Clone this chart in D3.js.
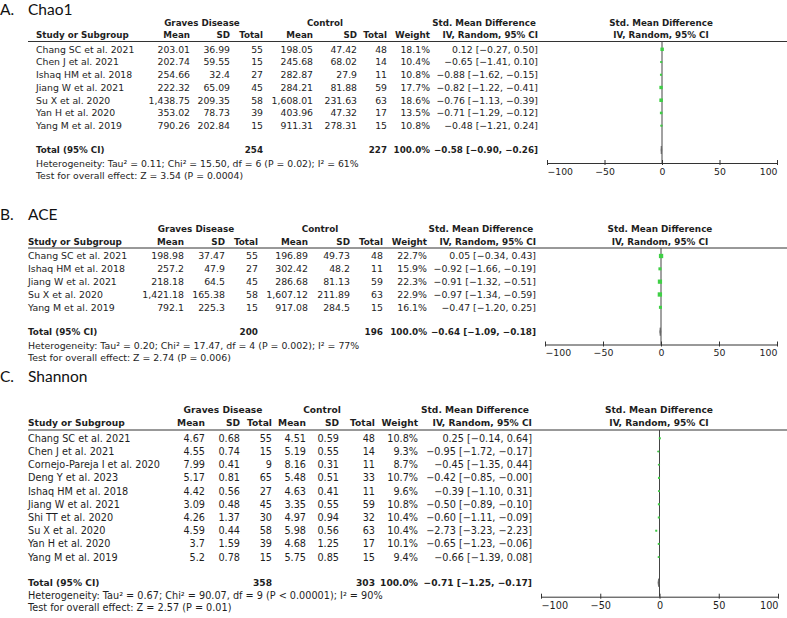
<!DOCTYPE html>
<html>
<head>
<meta charset="utf-8">
<script src="https://cdn.jsdelivr.net/npm/d3@7"></script>
<style>
  body { margin: 0; background: #fff; }
  text { font-family: "DejaVu Sans", sans-serif; fill: #1e1e1e; }
  .title { font-family: Lato, "Open Sans", sans-serif; fill: #111; }
</style>
</head>
<body>
<div id="vis"></div>
<script>
const FRAME_WIDTH = 787;
const FRAME_HEIGHT = 618;

//###############################################################
// Data
//###############################################################

// A. Chao1
const studiesA = ["Chang SC et al. 2021", "Chen J et al. 2021", "Ishaq HM et al. 2018",
  "Jiang W et al. 2021", "Su X et al. 2020", "Yan H et al. 2020", "Yang M et al. 2019"];
const gravesA = [[203.01, 36.99, 55], [202.74, 59.55, 15], [254.66, 32.4, 27], [222.32, 65.09, 45],
  [1438.75, 209.35, 58], [353.02, 78.73, 39], [790.26, 202.84, 15]];
const controlA = [[198.05, 47.42, 48], [245.68, 68.02, 14], [282.87, 27.9, 11], [284.21, 81.88, 59],
  [1608.01, 231.63, 63], [403.96, 47.32, 17], [911.31, 278.31, 15]];
const weightA = [18.1, 10.4, 10.8, 17.7, 18.6, 13.5, 10.8];
const smdA = [[0.12, -0.27, 0.50], [-0.65, -1.41, 0.10], [-0.88, -1.62, -0.15], [-0.82, -1.22, -0.41],
  [-0.76, -1.13, -0.39], [-0.71, -1.29, -0.12], [-0.48, -1.21, 0.24]];
const totalA = [254, 227, -0.58, -0.90, -0.26];
const hetA = ["0.11", "15.50", 6, "P = 0.02", 61];
const testA = ["3.54", "P = 0.0004"];

// B. ACE
const studiesB = ["Chang SC et al. 2021", "Ishaq HM et al. 2018", "Jiang W et al. 2021",
  "Su X et al. 2020", "Yang M et al. 2019"];
const gravesB = [[198.98, 37.47, 55], [257.2, 47.9, 27], [218.18, 64.5, 45], [1421.18, 165.38, 58], [792.1, 225.3, 15]];
const controlB = [[196.89, 49.73, 48], [302.42, 48.2, 11], [286.68, 81.13, 59], [1607.12, 211.89, 63], [917.08, 284.5, 15]];
const weightB = [22.7, 15.9, 22.3, 22.9, 16.1];
const smdB = [[0.05, -0.34, 0.43], [-0.92, -1.66, -0.19], [-0.91, -1.32, -0.51], [-0.97, -1.34, -0.59], [-0.47, -1.20, 0.25]];
const totalB = [200, 196, -0.64, -1.09, -0.18];
const hetB = ["0.20", "17.47", 4, "P = 0.002", 77];
const testB = ["2.74", "P = 0.006"];

// C. Shannon
const studiesC = ["Chang SC et al. 2021", "Chen J et al. 2021", "Cornejo-Pareja I et al. 2020",
  "Deng Y et al. 2023", "Ishaq HM et al. 2018", "Jiang W et al. 2021", "Shi TT et al. 2020",
  "Su X et al. 2020", "Yan H et al. 2020", "Yang M et al. 2019"];
const gravesC = [[4.67, 0.68, 55], [4.55, 0.74, 15], [7.99, 0.41, 9], [5.17, 0.81, 65], [4.42, 0.56, 27],
  [3.09, 0.48, 45], [4.26, 1.37, 30], [4.59, 0.44, 58], [3.7, 1.59, 39], [5.2, 0.78, 15]];
const controlC = [[4.51, 0.59, 48], [5.19, 0.55, 14], [8.16, 0.31, 11], [5.48, 0.51, 33], [4.63, 0.41, 11],
  [3.35, 0.55, 59], [4.97, 0.94, 32], [5.98, 0.56, 63], [4.68, 1.25, 17], [5.75, 0.85, 15]];
const weightC = [10.8, 9.3, 8.7, 10.7, 9.6, 10.8, 10.4, 10.4, 10.1, 9.4];
const smdC = [[0.25, -0.14, 0.64], [-0.95, -1.72, -0.17], [-0.45, -1.35, 0.44], [-0.42, -0.85, -0.00],
  [-0.39, -1.10, 0.31], [-0.50, -0.89, -0.10], [-0.60, -1.11, -0.09], [-2.73, -3.23, -2.23],
  [-0.65, -1.23, -0.06], [-0.66, -1.39, 0.08]];
const totalC = [358, 303, -0.71, -1.25, -0.17];
const hetC = ["0.67", "90.07", 9, "P < 0.00001", 90];
const testC = ["2.57", "P = 0.01"];

const axisTicks = [-100, -50, 0, 50, 100];
const colHeads = ["Mean", "SD", "Total", "Mean", "SD", "Total", "Weight", "IV, Random, 95% CI"];

//###############################################################
// Layout of the three panels (positions only)
//###############################################################
const panels = [
  { letter: "A.", name: "Chao1", studies: studiesA, graves: gravesA, control: controlA,
    weight: weightA, smd: smdA, total: totalA, het: hetA, test: testA,
    titleY: 14.5, groupY: 23, headY: 35, lineY: 41.5, lineX: 28, studyX: 36,
    row0: 49.3, step: 12.73, totalY: 150, hetY: 164, testY: 176, axisY: 163,
    cols: [190, 230, 263, 313, 357, 387, 430, 538], groupX: [202, 325, 484, 661],
    plotX: [547, 777], fs: 9.3 },
  { letter: "B.", name: "ACE", studies: studiesB, graves: gravesB, control: controlB,
    weight: weightB, smd: smdB, total: totalB, het: hetB, test: testB,
    titleY: 220, groupY: 229, headY: 241.7, lineY: 248, lineX: 28, studyX: 28,
    row0: 256, step: 12.83, totalY: 331.7, hetY: 346, testY: 358, axisY: 344.5,
    cols: [184, 225, 258, 308, 350, 383, 427, 536], groupX: [196, 320, 481, 660],
    plotX: [545, 777], fs: 9.4 },
  { letter: "C.", name: "Shannon", studies: studiesC, graves: gravesC, control: controlC,
    weight: weightC, smd: smdC, total: totalC, het: hetC, test: testC,
    titleY: 381.7, groupY: 410, headY: 422.7, lineY: 430, lineX: 28, studyX: 28,
    row0: 438.3, step: 13.2, totalY: 582.7, hetY: 596, testY: 607.3, axisY: 596.7,
    cols: [205, 240, 272, 306, 339, 375, 418, 532], groupX: [223, 322, 475, 659],
    plotX: [541, 778], fs: 9.7 }
];

const numFmt = d3.format(",");
const smdFmt = (v) => ((v < 0 || Object.is(v, -0)) ? "\u2212" : "") + Math.abs(v).toFixed(2);
const ciFmt = (d) => smdFmt(d[0]) + " [" + smdFmt(d[1]) + ", " + smdFmt(d[2]) + "]";

// square side follows study weight
const SIZE_SCALE = d3.scaleLinear().domain([0, 20]).range([0, 3.8]);

const svg = d3.select("#vis")
  .append("svg")
    .attr("width", FRAME_WIDTH)
    .attr("height", FRAME_HEIGHT);

panels.forEach((p) => {
  const g = svg.append("g");
  const bfs = p.fs * 0.94;   // bold glyphs are wider, so a touch smaller
  const base = p.fs * 0.36;  // text centre -> baseline

  // panel title
  g.append("text").attr("class", "title").attr("x", 0).attr("y", p.titleY)
    .attr("font-size", 15.5).text(p.letter);
  g.append("text").attr("class", "title").attr("x", 28).attr("y", p.titleY)
    .attr("font-size", 15.5).text(p.name);

  // group headers
  const groups = ["Graves Disease", "Control", "Std. Mean Difference", "Std. Mean Difference"];
  g.selectAll(".grp").data(groups).enter().append("text")
    .attr("x", (d, i) => p.groupX[i]).attr("y", p.groupY + base)
    .attr("text-anchor", "middle").attr("font-weight", "bold").attr("font-size", bfs)
    .text((d) => d);

  // column headers
  g.append("text").attr("x", p.studyX).attr("y", p.headY + base)
    .attr("font-weight", "bold").attr("font-size", bfs).text("Study or Subgroup");
  g.selectAll(".head").data(colHeads).enter().append("text")
    .attr("x", (d, i) => p.cols[i]).attr("y", p.headY + base)
    .attr("text-anchor", "end").attr("font-weight", "bold").attr("font-size", bfs)
    .text((d) => d);
  g.append("text").attr("x", p.groupX[3]).attr("y", p.headY + base)
    .attr("text-anchor", "middle").attr("font-weight", "bold").attr("font-size", bfs)
    .text("IV, Random, 95% CI");

  g.append("line").attr("x1", p.lineX).attr("x2", FRAME_WIDTH)
    .attr("y1", p.lineY).attr("y2", p.lineY)
    .attr("stroke", "#333").attr("stroke-width", 1);

  // row position scale
  const Y = d3.scaleLinear().domain([0, 1]).range([p.row0, p.row0 + p.step]);

  // one row per study
  const rows = g.selectAll(".row").data(p.studies).enter().append("g")
    .attr("transform", (d, i) => "translate(0," + (Y(i) + base) + ")")
    .attr("font-size", p.fs);
  rows.append("text").attr("x", p.studyX).text((d) => d);
  const cells = (i) => [...p.graves[i].map(numFmt), ...p.control[i].map(numFmt),
    p.weight[i].toFixed(1) + "%", ciFmt(p.smd[i])];
  rows.each(function (d, i) {
    d3.select(this).selectAll("text.cell").data(cells(i)).enter().append("text")
      .attr("class", "cell")
      .attr("x", (c, j) => p.cols[j]).attr("text-anchor", "end").text((c) => c);
  });

  // total row
  const tg = g.append("g").attr("transform", "translate(0," + (p.totalY + base) + ")")
    .attr("font-weight", "bold").attr("font-size", bfs);
  tg.append("text").attr("x", p.studyX).text("Total (95% CI)");
  const tcells = [[2, p.total[0]], [5, p.total[1]], [6, "100.0%"],
    [7, ciFmt(p.total.slice(2))]];
  tg.selectAll(".tc").data(tcells).enter().append("text")
    .attr("x", (d) => p.cols[d[0]]).attr("text-anchor", "end").text((d) => d[1]);

  // heterogeneity / overall effect
  g.append("text").attr("x", p.studyX).attr("y", p.hetY + base).attr("font-size", p.fs)
    .text("Heterogeneity: Tau\u00B2 = " + p.het[0] + "; Chi\u00B2 = " + p.het[1] +
      ", df = " + p.het[2] + " (" + p.het[3] + "); I\u00B2 = " + p.het[4] + "%");
  g.append("text").attr("x", p.studyX).attr("y", p.testY + base).attr("font-size", p.fs)
    .text("Test for overall effect: Z = " + p.test[0] + " (" + p.test[1] + ")");

  //###############################################################
  // Forest plot
  //###############################################################
  const X_SCALE = d3.scaleLinear().domain([-100, 100]).range(p.plotX);

  g.append("line").attr("x1", X_SCALE(0)).attr("x2", X_SCALE(0))
    .attr("y1", p.lineY).attr("y2", p.axisY)
    .attr("stroke", "#444").attr("stroke-width", 1);

  // confidence intervals
  g.selectAll(".ci").data(p.smd).enter().append("line")
    .attr("x1", (d) => X_SCALE(d[1])).attr("x2", (d) => X_SCALE(d[2]))
    .attr("y1", (d, i) => Y(i)).attr("y2", (d, i) => Y(i))
    .attr("stroke", "#333").attr("stroke-width", 0.8);

  // weighted squares
  g.selectAll(".sq").data(p.smd).enter().append("rect")
    .attr("x", (d, i) => X_SCALE(d[0]) - SIZE_SCALE(p.weight[i]) / 2)
    .attr("y", (d, i) => Y(i) - SIZE_SCALE(p.weight[i]) / 2)
    .attr("width", (d, i) => SIZE_SCALE(p.weight[i]))
    .attr("height", (d, i) => SIZE_SCALE(p.weight[i]))
    .attr("fill", "#3fcf45");

  // pooled diamond
  const t = p.total;
  g.append("path")
    .attr("d", "M" + X_SCALE(t[3]) + "," + p.totalY +
      "L" + X_SCALE(t[2]) + "," + (p.totalY - 4) +
      "L" + X_SCALE(t[4]) + "," + p.totalY +
      "L" + X_SCALE(t[2]) + "," + (p.totalY + 4) + "Z")
    .attr("fill", "#555").attr("stroke", "#666").attr("stroke-width", 0.8);

  // axis
  const ax = g.append("g")
    .attr("transform", "translate(0," + p.axisY + ")")
    .call(d3.axisBottom(X_SCALE).tickValues(axisTicks).tickSize(3).tickSizeOuter(0).tickPadding(2));
  ax.select(".domain").attr("stroke", "#333");
  ax.selectAll(".tick line").attr("y1", -3).attr("y2", 2).attr("stroke", "#333");
  ax.selectAll(".tick text").attr("font-size", p.fs)
    .attr("text-anchor", (d, i) => i === 0 ? "start" : (i === axisTicks.length - 1 ? "end" : "middle"));
});
</script>
</body>
</html>
